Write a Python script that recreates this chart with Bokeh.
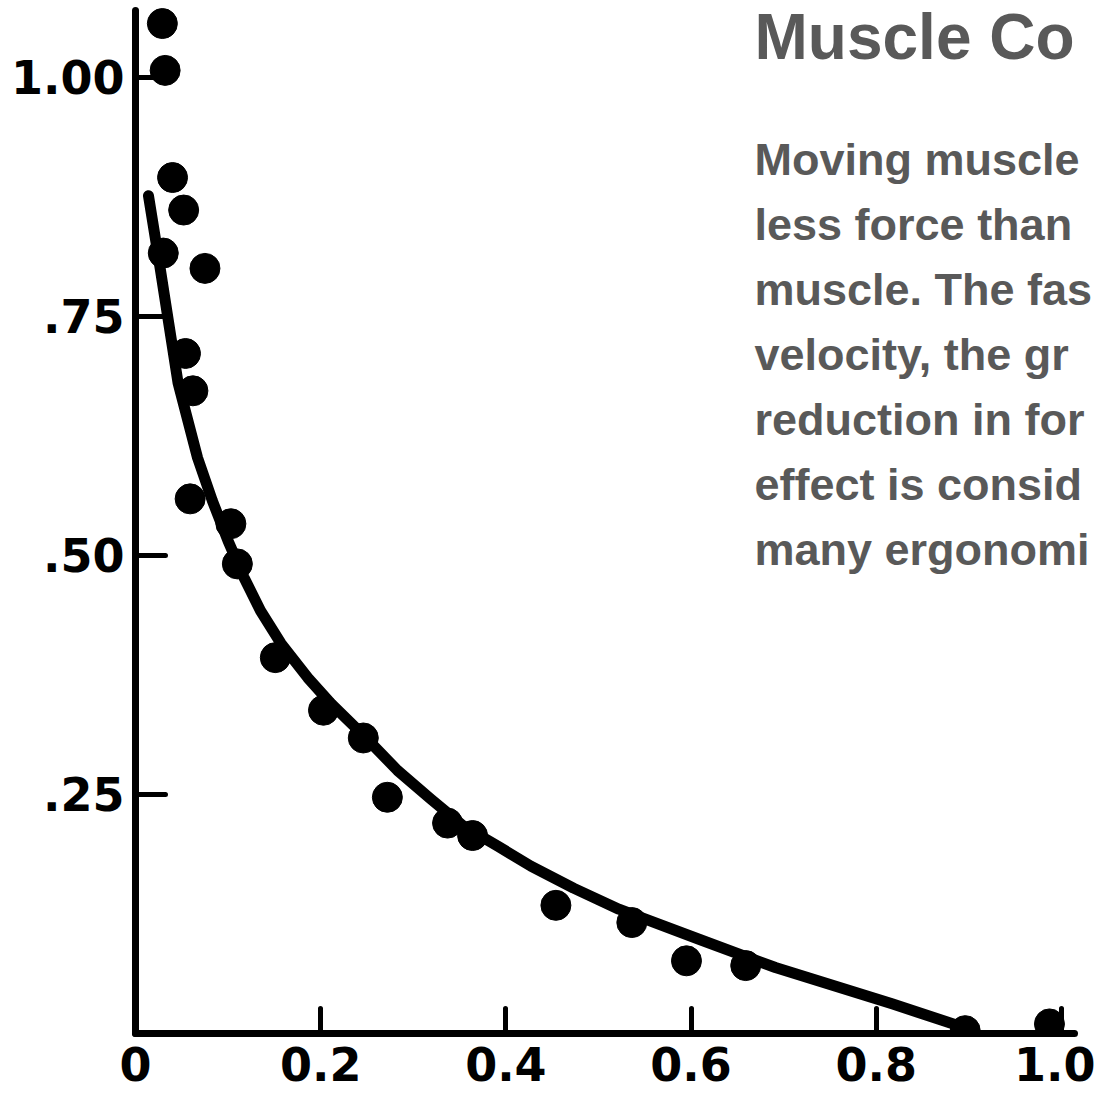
from bokeh.plotting import figure
from bokeh.models import Range1d, FixedTicker, Label
from bokeh.embed import file_html
from bokeh.resources import INLINE

# ---- data ----
# fitted force-velocity curve
curve_velocity = [0.014, 0.027, 0.036, 0.046, 0.067, 0.083, 0.100, 0.117, 0.135, 0.157,
                  0.186, 0.211, 0.246, 0.283, 0.319, 0.354, 0.391, 0.427, 0.473, 0.522,
                  0.610, 0.691, 0.817, 0.902]
curve_force = [0.876, 0.798, 0.742, 0.680, 0.602, 0.557, 0.515, 0.477, 0.442, 0.408,
               0.372, 0.345, 0.312, 0.275, 0.245, 0.217, 0.196, 0.175, 0.152, 0.130,
               0.098, 0.069, 0.031, 0.004]

# measured points
point_velocity = [0.029, 0.032, 0.040, 0.052, 0.075, 0.030, 0.054, 0.062, 0.059, 0.103,
                  0.110, 0.151, 0.203, 0.246, 0.272, 0.337, 0.364, 0.454, 0.536, 0.595,
                  0.659, 0.896, 0.987]
point_force = [1.056, 1.007, 0.895, 0.861, 0.800, 0.816, 0.711, 0.672, 0.559, 0.533,
               0.491, 0.393, 0.338, 0.309, 0.247, 0.220, 0.207, 0.134, 0.116, 0.076,
               0.071, 0.003, 0.010]

x_ticks = [0, 0.2, 0.4, 0.6, 0.8, 1.0]
x_tick_labels = ["0", "0.2", "0.4", "0.6", "0.8", "1.0"]
y_ticks = [0.25, 0.5, 0.75, 1.0]
y_tick_labels = [".25", ".50", ".75", "1.00"]

# slide text, as far as it is visible in the (cropped) reference
title_text = "Muscle Co"
body_lines = [
    "Moving muscle",
    "less force than",
    "muscle. The fas",
    "velocity, the gr",
    "reduction in for",
    "effect is consid",
    "many ergonomi",
]

# ---- figure ----
W, H = 1095, 1096
LEFT, BOTTOM = 135, 63
XSCALE, YSCALE = 926.0, 956.4
x_end = (W - LEFT) / XSCALE
y_end = (H - BOTTOM) / YSCALE

p = figure(width=W, height=H, output_backend="svg", toolbar_location=None,
           x_range=Range1d(0, x_end), y_range=Range1d(0, y_end),
           min_border_left=LEFT, min_border_right=0, min_border_top=0,
           min_border_bottom=BOTTOM)
p.outline_line_color = None
p.grid.visible = False
p.background_fill_color = "white"
p.border_fill_color = "white"

for ax in (p.xaxis[0], p.yaxis[0]):
    ax.axis_line_color = "black"
    ax.axis_line_width = 7
    ax.axis_line_cap = "round"
    ax.major_tick_line_color = "black"
    ax.major_tick_line_width = 5
    ax.major_tick_line_cap = "round"
    ax.major_tick_out = 0
    ax.minor_tick_line_color = None
    ax.major_label_text_font = "DejaVu Sans"
    ax.major_label_text_font_style = "bold"
    ax.major_label_text_font_size = "46px"
    ax.major_label_text_color = "black"

xa = p.xaxis[0]
xa.ticker = FixedTicker(ticks=x_ticks)
xa.major_label_overrides = dict(zip(x_ticks, x_tick_labels))
xa.major_tick_in = 25
xa.major_label_standoff = 13
xa.bounds = (0, (1074 - LEFT) / XSCALE)

ya = p.yaxis[0]
ya.ticker = FixedTicker(ticks=y_ticks)
ya.major_label_overrides = dict(zip(y_ticks, y_tick_labels))
ya.major_tick_in = 30
ya.major_label_standoff = 11
ya.bounds = (0, (H - BOTTOM - 10) / YSCALE)

p.line(curve_velocity, curve_force, line_width=11, line_color="black",
       line_join="round", line_cap="round")
p.scatter(point_velocity, point_force, size=30, fill_color="black", line_color="black")

# ---- slide text on the right ----
def sx(px):
    return (px - LEFT) / XSCALE

def sy(px):
    return (H - BOTTOM - px) / YSCALE

p.add_layout(Label(x=sx(754), y=sy(59 - 0.35 * 64), text=title_text,
                   text_font="Liberation Sans", text_font_style="bold",
                   text_font_size="64px", text_color="#595959",
                   text_baseline="alphabetic"))
for i, line in enumerate(body_lines):
    p.add_layout(Label(x=sx(754), y=sy(175 + 65 * i - 0.35 * 45), text=line,
                       text_font="Liberation Sans", text_font_style="bold",
                       text_font_size="45px", text_color="#595959",
                       text_baseline="alphabetic"))

open("out.html", "w").write(file_html(p, INLINE))
